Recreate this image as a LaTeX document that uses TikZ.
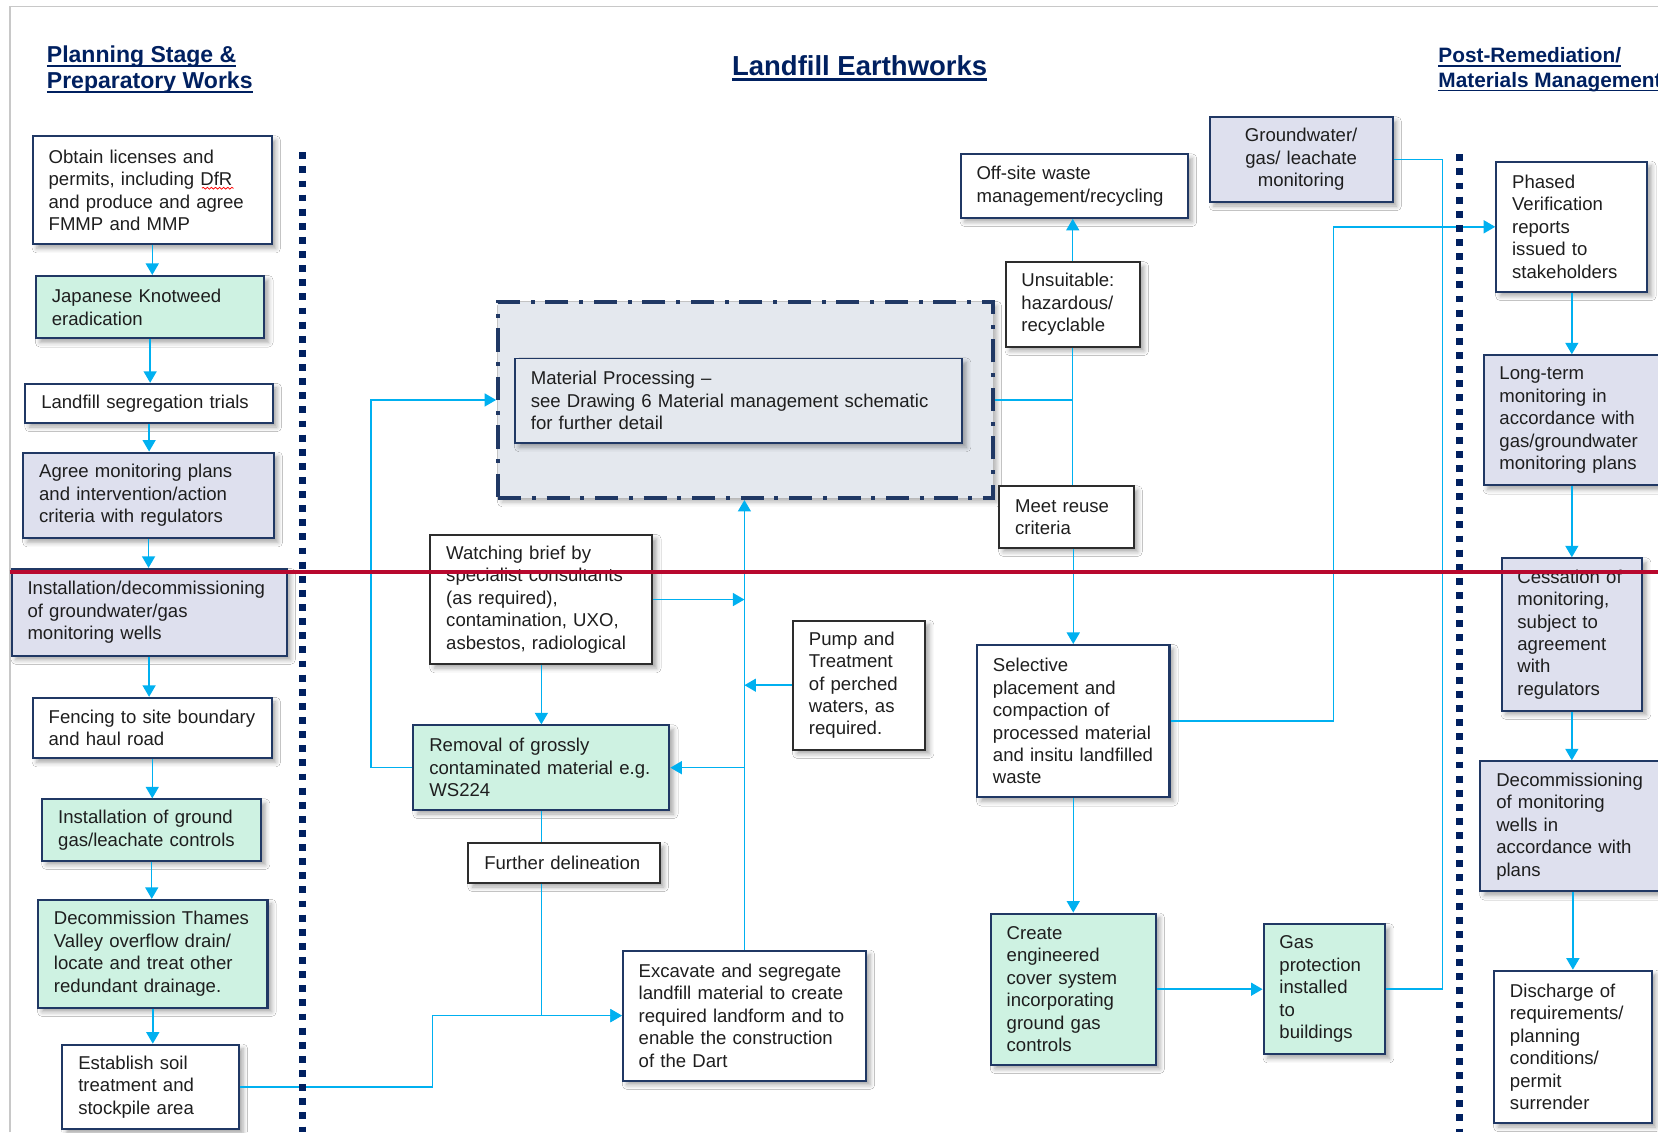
\documentclass[tikz,border=0pt]{standalone}
\usepackage{fontspec}
\setmainfont{Liberation Sans}
\usetikzlibrary{arrows.meta,shadows.blur,decorations.pathmorphing}

\definecolor{navy}{RGB}{32,56,100}
\definecolor{headblue}{RGB}{0,32,96}
\definecolor{sepblue}{RGB}{0,32,96}
\definecolor{flow}{RGB}{0,176,240}
\definecolor{mint}{RGB}{206,242,226}
\definecolor{lavender}{RGB}{222,224,238}
\definecolor{procfill}{RGB}{228,232,238}
\definecolor{crimson}{RGB}{184,8,46}
\definecolor{framegray}{RGB}{200,200,200}
\definecolor{bodytext}{RGB}{30,30,30}
\definecolor{edgeblack}{RGB}{45,45,45}

% underlined heading line
\newcommand\hdline[1]{\setbox0=\hbox{#1}\rlap{\rule[-0.2em]{\wd0}{0.08em}}\box0}
\newcommand\bodyfont{\fontsize{10pt}{12.1pt}\selectfont\hyphenpenalty=10000\exhyphenpenalty=10000}

\begin{document}
\begin{tikzpicture}[x=0.02cm, y=-0.02cm,
  box/.style={rectangle, line width=1.1pt, inner xsep=0.3cm, inner ysep=0pt,
    align=left, font=\bodyfont, text=bodytext,
    blur shadow={shadow xshift=2.2pt, shadow yshift=-2.2pt, shadow blur radius=2.5pt, shadow opacity=35}},
  wbox/.style={box, draw=navy, fill=white},
  gbox/.style={box, draw=navy, fill=mint},
  lbox/.style={box, draw=navy, fill=lavender},
  kbox/.style={box, draw=edgeblack, fill=white},
  flowline/.style={draw=flow, line width=0.8pt},
  flowarrow/.style={flowline, -{Triangle[length=6.2pt,width=7pt]}},
  heading/.style={text=headblue, inner sep=0pt, align=left},
  sep/.style={draw=sepblue, line width=3.6pt, dash pattern=on 3.7pt off 3.9pt},
]
\fill[white] (0,0) rectangle (1568,1071);
\useasboundingbox (0,0) rectangle (1568,1071);

% page frame
\draw[framegray, line width=0.8pt] (9.5,1071) -- (9.5,6) -- (1568,6);

% column headings
\node[heading, font=\bfseries\fontsize{12.4pt}{13.9pt}\selectfont, anchor=north west] (hplan) at (44,43)
  {\hdline{Planning Stage \&}\\\hdline{Preparatory Works}};
\node[heading, font=\bfseries\fontsize{14.8pt}{17pt}\selectfont, anchor=base west] (hland) at (692,71)
  {\hdline{Landfill Earthworks}};
\node[heading, font=\bfseries\fontsize{11.2pt}{13.3pt}\selectfont, anchor=north west] (hpost) at (1360,44.4)
  {\hdline{Post-Remediation/}\\\hdline{Materials Management}};

% planning stage column
\node[wbox, text width=3.92cm, minimum height=2.04cm] (obtain) at (144,180)
  {Obtain licenses and\\permits, including DfR\\and produce and agree\\FMMP and MMP};
\node[gbox, text width=3.72cm, minimum height=1.18cm] (knot) at (142,290.5)
  {Japanese Knotweed\\eradication};
\node[wbox, text width=4.08cm, minimum height=0.74cm] (trials) at (141,381.5)
  {Landfill segregation trials};
\node[lbox, text width=4.14cm, minimum height=1.62cm] (agree) at (140.5,468.5)
  {Agree monitoring plans\\and intervention/action\\criteria with regulators};
\node[lbox, text width=4.60cm, minimum height=1.64cm] (wells) at (141,579)
  {Installation/decommissioning\\of groundwater/gas\\monitoring wells};
\node[wbox, text width=3.92cm, minimum height=1.14cm] (fence) at (144,688.5)
  {Fencing to site boundary\\and haul road};
\node[gbox, text width=3.54cm, minimum height=1.16cm] (gasctl) at (143.5,785)
  {Installation of ground\\gas/leachate controls};
\node[gbox, text width=3.74cm, minimum height=2.04cm] (thames) at (144.5,902)
  {Decommission Thames\\Valley overflow drain/\\locate and treat other\\redundant drainage.};
\node[wbox, text width=2.74cm, minimum height=1.60cm] (soil) at (142.5,1028)
  {Establish soil\\treatment and\\stockpile area};

% spell-check mark under DfR
\draw[red, line width=0.4pt, decorate, decoration={snake, amplitude=0.5pt, segment length=2.2pt}]
  (191,178) -- (221,178);

% material processing group
\node[draw=navy, line width=2.1pt, dash pattern=on 12.5pt off 5.7pt on 2.2pt off 5.7pt,
  fill=procfill, minimum width=9.36cm, minimum height=3.71cm, inner sep=0pt,
  blur shadow={shadow xshift=2.2pt, shadow yshift=-2.2pt, shadow blur radius=2.5pt, shadow opacity=30}]
  (proc) at (705,378.25) {};
\node[box, draw=navy, line width=0.9pt, fill=procfill, text width=7.86cm, minimum height=1.60cm] (procnote) at (698.5,379)
  {Material Processing –\\see Drawing 6 Material management schematic\\for further detail};

% landfill earthworks
\node[kbox, text width=3.60cm, minimum height=2.44cm] (watch) at (512,567)
  {Watching brief by\\specialist consultants\\(as required),\\contamination, UXO,\\asbestos, radiological};
\node[gbox, text width=4.24cm, minimum height=1.60cm] (remov) at (512,726)
  {Removal of grossly\\contaminated material e.g.\\WS224};
\node[kbox, text width=3.02cm, minimum height=0.76cm] (further) at (533.5,816)
  {Further delineation};
\node[wbox, text width=4.00cm, minimum height=2.46cm] (excav) at (704,960.5)
  {Excavate and segregate\\landfill material to create\\required landform and to\\enable the construction\\of the Dart};
\node[kbox, text width=1.90cm, minimum height=2.44cm] (pump) at (812.5,648)
  {Pump and\\Treatment\\of perched\\waters, as\\required.};
\node[kbox, text width=1.94cm, minimum height=1.60cm] (unsuit) at (1014.5,288)
  {Unsuitable:\\hazardous/\\recyclable};
\node[wbox, text width=3.70cm, minimum height=1.20cm] (offsite) at (1016,176)
  {Off-site waste\\management/recycling};
\node[lbox, align=center, text width=2.86cm, minimum height=1.60cm] (gw) at (1230.5,151)
  {Groundwater/\\gas/ leachate\\monitoring};
\node[kbox, text width=1.94cm, minimum height=1.16cm] (meet) at (1008.5,489)
  {Meet reuse\\criteria};
\node[wbox, text width=3.04cm, minimum height=2.88cm] (select) at (1015,682)
  {Selective\\placement and\\compaction of\\processed material\\and insitu landfilled\\waste};
\node[gbox, text width=2.52cm, minimum height=2.86cm] (create) at (1015,935.5)
  {Create\\engineered\\cover system\\incorporating\\ground gas\\controls};
\node[gbox, text width=1.70cm, minimum height=2.46cm] (gasprot) at (1252.5,935.5)
  {Gas\\protection\\installed\\to\\buildings};

% post-remediation column
\node[wbox, text width=2.26cm, minimum height=2.46cm] (phased) at (1486.5,214.5)
  {Phased\\Verification\\reports\\issued to\\stakeholders};
\node[lbox, text width=3.40cm, minimum height=2.46cm] (longterm) at (1503,397.5)
  {Long-term\\monitoring in\\accordance with\\gas/groundwater\\monitoring plans};
\node[lbox, text width=2.06cm, minimum height=2.88cm] (cess) at (1486.5,600)
  {Cessation of\\monitoring,\\subject to\\agreement\\with\\regulators};
\node[lbox, text width=3.40cm, minimum height=2.46cm] (decom) at (1500,781.5)
  {Decommissioning\\of monitoring\\wells in\\accordance with\\plans};
\node[wbox, text width=2.38cm, minimum height=2.88cm] (disch) at (1487.5,990)
  {Discharge of\\requirements/\\planning\\conditions/\\permit\\surrender};

% connectors: planning stage
\draw[flowarrow] (obtain.south) -- (obtain.south |- knot.north);
\draw[flowarrow] (knot.south) -- (knot.south |- trials.north);
\draw[flowarrow] (trials.south) -- (trials.south |- agree.north);
\draw[flowarrow] (agree.south) -- (agree.south |- wells.north);
\draw[flowarrow] (wells.south) -- (wells.south |- fence.north);
\draw[flowarrow] (fence.south) -- (fence.south |- gasctl.north);
\draw[flowarrow] (gasctl.south) -- (gasctl.south |- thames.north);
\draw[flowarrow] (thames.south) -- (thames.south |- soil.north);

% connectors: earthworks
\draw[flowarrow] (excav.north) -- (excav.north |- proc.south);
\draw[flowarrow] (watch.east) -- (watch.east -| excav.north);
\draw[flowarrow] (pump.west) -- (pump.west -| excav.north);
\draw[flowarrow] (excav.north |- remov.east) -- (remov.east);
\draw[flowarrow] (watch.south) -- (watch.south |- remov.north);
\draw[flowarrow] (remov.west) -- ++(-39,0) |- (proc.west);
\draw[flowline] (remov.south) -- (remov.south |- further.north);
\draw[flowarrow] (remov.south |- further.south) |- (excav.west);
\draw[flowarrow] (soil.east) -- ++(182,0) |- (excav.west);

\draw[flowline] (proc.east) -- (proc.east -| unsuit.south);
\draw[flowline] (unsuit.south) -- (unsuit.south |- meet.north);
\draw[flowarrow] (unsuit.north) -- (unsuit.north |- offsite.south);
\draw[flowarrow] (select.north |- meet.south) -- (select.north);
\draw[flowarrow] (select.south) -- (create.north);
\draw[flowarrow] (create.east) -- (create.east -| gasprot.west);
\draw[flowarrow] (select.east) -- ++(154,0) |- (phased.west);
\draw[flowline] (gw.east) -- ++(46,0) |- (gasprot.east);

% connectors: post-remediation
\draw[flowarrow] (phased.south) -- (phased.south |- longterm.north);
\draw[flowarrow] (cess.north |- longterm.south) -- (cess.north);
\draw[flowarrow] (cess.south) -- (cess.south |- decom.north);
\draw[flowarrow] (disch.north |- decom.south) -- (disch.north);

% stage separators
\draw[sep] (286,144) -- (286,1071);
\draw[sep] (1380,146) -- (1380,1071);

% red marker line across the sheet
\draw[crimson, line width=2.6pt] (9,541) -- (1568,541);
\end{tikzpicture}
\end{document}
